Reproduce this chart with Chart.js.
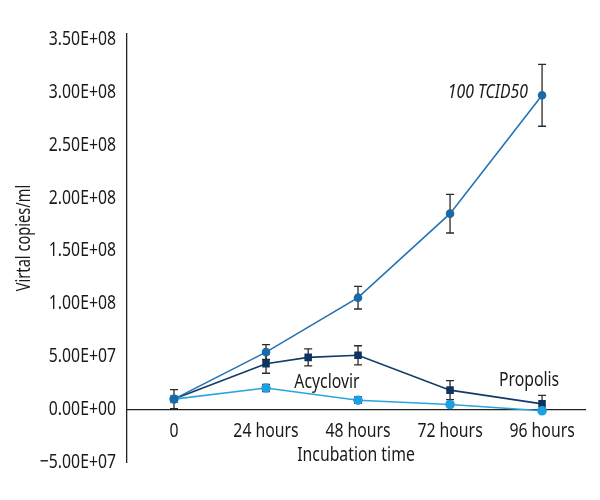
<!DOCTYPE html>
<html><head><meta charset="utf-8">
<script src="https://cdn.jsdelivr.net/npm/chart.js@4"></script>
<style>html,body{margin:0;padding:0;background:#fff}#wrap{width:600px;height:500px}</style>
</head><body><div id="wrap"><canvas id="c" width="600" height="500"></canvas></div>
<script>
// ---- data ----
const hourTicks = [0, 24, 48, 72, 96];
const hourTickLabels = ['0', '24 hours', '48 hours', '72 hours', '96 hours'];
const yTickValues = [-5e7, 0, 5e7, 1e8, 1.5e8, 2e8, 2.5e8, 3e8, 3.5e8];
const yTickLabels = ['\u22125.00E+07', '0.00E+00', '5.00E+07', '1.00E+08', '1.50E+08', '2.00E+08', '2.50E+08', '3.00E+08', '3.50E+08'];

const tcidHours = [0, 24, 48, 72, 96];
const tcidValues = [9.5e6, 5.4e7, 1.055e8, 1.85e8, 2.97e8];
const tcidErrors = [0, 7e6, 1.07e7, 1.83e7, 2.93e7];

const darkHours = [0, 24, 35, 48, 72, 96];
const darkValues = [9.5e6, 4.3e7, 4.9e7, 5.1e7, 1.8e7, 5e6];
const darkErrors = [9e6, 9e6, 8e6, 9e6, 9e6, 8e6];

const lightHours = [0, 24, 48, 72, 96];
const lightValues = [9.5e6, 2.0e7, 8.5e6, 4.4e6, -1.5e6];
const lightErrors = [0, 3.5e6, 3e6, 1e6, 1e6];

const seriesNames = ['100 TCID50', 'Propolis', 'Acyclovir'];

const FONT = "'Noto Sans', 'Liberation Sans', sans-serif";
const SQUEEZE = 0.77;

const toPts = (xs, ys) => xs.map((x, i) => ({x: x, y: ys[i]}));

const errorBarPlugin = {
  id: 'errorBars',
  beforeDatasetsDraw(chart) {
    const ctx = chart.ctx;
    const ys = chart.scales.y, xs = chart.scales.x;
    ctx.save();
    ctx.strokeStyle = '#2a2a2a';
    ctx.lineWidth = 1.3;
    chart.data.datasets.forEach(ds => {
      (ds.errors || []).forEach((e, i) => {
        if (!e) return;
        const p = ds.data[i];
        const px = xs.getPixelForValue(p.x);
        const y1 = ys.getPixelForValue(p.y + e);
        const y2 = ys.getPixelForValue(p.y - e);
        ctx.beginPath();
        ctx.moveTo(px, y1); ctx.lineTo(px, y2);
        ctx.moveTo(px - 4, y1); ctx.lineTo(px + 4, y1);
        ctx.moveTo(px - 4, y2); ctx.lineTo(px + 4, y2);
        ctx.stroke();
      });
    });
    ctx.restore();
  }
};

// narrow the text (the original uses a condensed face)
const condensePlugin = {
  id: 'condense',
  beforeDraw(chart) {
    const ctx = chart.ctx;
    ['x', 'y'].forEach(id => {
      const s = chart.scales[id];
      s.getLabelItems().forEach(it => {
        ctx.save();
        ctx.font = it.font.string;
        const w = ctx.measureText(String(it.label)).width;
        ctx.restore();
        it.options.maxWidth = w * SQUEEZE;
      });
      if (!s._condensed) {
        const orig = s.drawTitle.bind(s);
        s.drawTitle = function () {
          const c = this.ctx;
          c.save();
          if (this.isHorizontal()) {
            const cx = (this.left + this.right) / 2;
            c.translate(cx, 0); c.scale(SQUEEZE, 1); c.translate(-cx, 0);
          } else {
            const cy = (this.top + this.bottom) / 2;
            c.translate(0, cy - 10); c.scale(1, SQUEEZE); c.translate(0, -cy);
          }
          orig();
          c.restore();
        };
        s._condensed = true;
      }
    });
  }
};

const labelPlugin = {
  id: 'seriesLabels',
  afterDatasetsDraw(chart, args, opts) {
    const ctx = chart.ctx;
    const xs = chart.scales.x, ys = chart.scales.y;
    ctx.save();
    ctx.fillStyle = '#1a1a1a';
    ctx.textBaseline = 'middle';
    opts.items.forEach(it => {
      ctx.font = (it.italic ? 'italic ' : '') + '20.5px ' + FONT;
      ctx.textAlign = it.align;
      const w = ctx.measureText(it.text).width;
      ctx.fillText(it.text, xs.getPixelForValue(it.x), ys.getPixelForValue(it.y), w * SQUEEZE);
    });
    ctx.restore();
  }
};

new Chart(document.getElementById('c'), {
  type: 'line',
  data: {
    datasets: [
      {
        label: seriesNames[0],
        data: toPts(tcidHours, tcidValues),
        errors: tcidErrors,
        borderColor: '#2573b3',
        backgroundColor: '#1c69a6',
        pointBackgroundColor: '#1c69a6',
        pointBorderColor: '#1c69a6',
        borderWidth: 1.6,
        pointRadius: 3.5,
        pointStyle: 'circle',
        tension: 0
      },
      {
        label: seriesNames[2],
        data: toPts(lightHours, lightValues),
        errors: lightErrors,
        borderColor: '#2aa4df',
        backgroundColor: '#1fa0e0',
        pointBackgroundColor: '#1fa0e0',
        pointBorderColor: '#1fa0e0',
        borderWidth: 1.6,
        pointRadius: 4,
        pointStyle: 'circle',
        tension: 0
      },
      {
        label: seriesNames[1],
        data: toPts(darkHours, darkValues),
        errors: darkErrors,
        borderColor: '#123b66',
        backgroundColor: '#0d3460',
        pointBackgroundColor: '#0d3460',
        pointBorderColor: '#0d3460',
        borderWidth: 1.6,
        pointRadius: 4.2,
        pointStyle: 'rect',
        tension: 0
      }
    ]
  },
  options: {
    responsive: false,
    animation: false,
    layout: {padding: {left: 0, right: 15, top: 34, bottom: 38}},
    plugins: {
      legend: {display: false},
      tooltip: {enabled: false},
      seriesLabels: {
        items: [
          {text: '100 TCID50', x: 92.3, y: 3.0e8, align: 'right', italic: true},
          {text: 'Acyclovir', x: 39.9, y: 2.58e7, align: 'center'},
          {text: 'Propolis', x: 92.6, y: 2.75e7, align: 'center'}
        ]
      }
    },
    scales: {
      x: {
        type: 'linear',
        position: {y: 0},
        min: -12.26,
        max: 107.2,
        afterBuildTicks: s => { s.ticks = hourTicks.map(v => ({value: v})); },
        grid: {display: false, drawTicks: false},
        border: {display: true, color: '#222', width: 1.3},
        ticks: {
          autoSkip: false, maxRotation: 0, padding: 11,
          color: '#1a1a1a',
          font: {family: FONT, size: 20.5, lineHeight: 1.1},
          callback: (v, i) => hourTickLabels[i]
        },
        title: {display: true, text: 'Incubation time', color: '#1a1a1a',
          font: {family: FONT, size: 20.5, lineHeight: 1.1}, padding: {top: -10, bottom: 0}}
      },
      y: {
        type: 'linear',
        min: -5e7,
        max: 3.55e8,
        afterBuildTicks: s => { s.ticks = yTickValues.map(v => ({value: v})); },
        afterFit: s => { s.width = 127; },
        grid: {display: false, drawTicks: false},
        border: {display: true, color: '#222', width: 1.3},
        ticks: {
          padding: 11,
          color: '#1a1a1a',
          font: {family: FONT, size: 20.5},
          callback: (v, i) => yTickLabels[i]
        },
        title: {display: true, text: 'Virtal copies/ml', color: '#1a1a1a',
          font: {family: FONT, size: 19, lineHeight: 1.1}, padding: {top: 14, bottom: 0}}
      }
    }
  },
  plugins: [condensePlugin, errorBarPlugin, labelPlugin]
});
</script></body></html>
